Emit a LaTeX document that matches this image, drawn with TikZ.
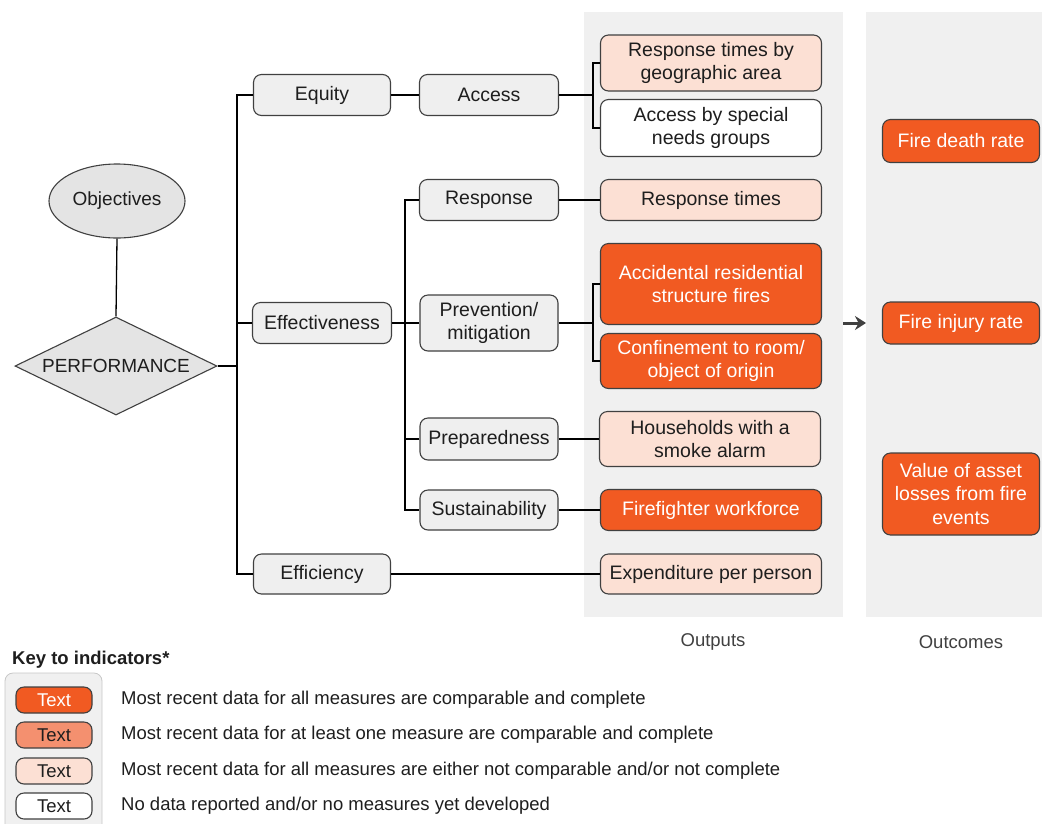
\documentclass[tikz,border=0pt]{standalone}
\usepackage{fontspec}
\setmainfont{Liberation Sans}
\usetikzlibrary{shapes.geometric,arrows.meta}

\definecolor{panelgray}{HTML}{F0F0F0}
\definecolor{boxgray}{HTML}{EFEFEF}
\definecolor{shapegray}{HTML}{E4E4E4}
\definecolor{edgegray}{HTML}{404040}
\definecolor{inkdark}{HTML}{1E1E1E}
\definecolor{firedark}{HTML}{F15A22}
\definecolor{firemid}{HTML}{F4906F}
\definecolor{firelight}{HTML}{FCE0D4}

\tikzset{
  every node/.style={text=inkdark},
  boxbase/.style={draw=edgegray, line width=1.1pt, rounded corners=8pt,
    align=center, inner sep=0pt, font=\fontsize{19.5}{23.5}\selectfont},
  framebox/.style={boxbase, fill=boxgray},
  lightbox/.style={boxbase, fill=firelight, minimum width=221pt},
  emptybox/.style={boxbase, fill=white, minimum width=221pt},
  darkbox/.style={boxbase, fill=firedark, text=white, minimum width=221pt},
  outcomebox/.style={boxbase, fill=firedark, text=white, minimum width=157pt},
  link/.style={draw=black, line width=1.3pt},
  keybox/.style={draw=edgegray, line width=1.1pt, rounded corners=8pt,
    minimum width=76pt, minimum height=26pt, inner sep=0pt,
    font=\fontsize{18.5}{22}\selectfont},
  keytext/.style={anchor=west, inner sep=0pt, font=\fontsize{18.5}{22}\selectfont},
  caption/.style={font=\fontsize{18.5}{22}\selectfont, text=edgegray}
}

\begin{document}
\begin{tikzpicture}[x=1pt, y=-1pt]
\useasboundingbox (0,0) rectangle (1042,823);

% background panels for outputs and outcomes
\fill[panelgray] (584,12) rectangle (843,617);
\fill[panelgray] (866,12) rectangle (1042,617);

% objectives and performance
\node[ellipse, draw=edgegray, line width=1.1pt, fill=shapegray,
  minimum width=136pt, minimum height=74pt, inner sep=0pt,
  font=\fontsize{19}{23}\selectfont] (obj) at (117,201) {Objectives};
\node[diamond, aspect=2.06, draw=edgegray, line width=1.1pt, fill=shapegray,
  minimum width=202pt, minimum height=98pt, inner sep=0pt,
  font=\fontsize{19}{23}\selectfont] (perf) at (116,366) {PERFORMANCE};

% first level
\node[framebox, minimum width=137pt, minimum height=41pt] (equity) at (322,95) {Equity};
\node[framebox, minimum width=139pt, minimum height=41pt] (effect) at (322,323) {Effectiveness};
\node[framebox, minimum width=137pt, minimum height=40pt] (effic) at (322,574) {Efficiency};

% second level
\node[framebox, minimum width=139pt, minimum height=41pt] (access) at (489,95) {Access};
\node[framebox, minimum width=139pt, minimum height=41pt] (respond) at (489,200) {Response};
\node[framebox, minimum width=138pt, minimum height=56pt] (prevent) at (489,323) {Prevention/\\mitigation};
\node[framebox, minimum width=138pt, minimum height=42pt] (prepare) at (489,439) {Preparedness};
\node[framebox, minimum width=138pt, minimum height=40pt] (sustain) at (489,510) {Sustainability};

% outputs
\node[lightbox, minimum height=56pt] (rtgeo) at (711,63) {Response times by\\geographic area};
\node[emptybox, minimum height=57pt] (special) at (711,128) {Access by special\\needs groups};
\node[lightbox, minimum height=41pt] (rtimes) at (711,200) {Response times};
\node[darkbox, minimum height=81pt] (fires) at (711,284) {Accidental residential\\structure fires};
\node[darkbox, minimum height=55pt] (confine) at (711,361) {Confinement to room/\\object of origin};
\node[lightbox, minimum height=55pt] (alarm) at (710,439) {Households with a\\smoke alarm};
\node[darkbox, minimum height=41pt] (workforce) at (711,510) {Firefighter workforce};
\node[lightbox, minimum height=40pt] (spend) at (711,574) {Expenditure per person};

% outcomes
\node[outcomebox, minimum height=43pt] (death) at (961,141) {Fire death rate};
\node[outcomebox, minimum height=42pt] (injury) at (961,323) {Fire injury rate};
\node[outcomebox, minimum height=82pt] (assets) at (961,494) {Value of asset\\losses from fire\\events};

% column captions
\node[caption] (outlbl) at (713,642) {Outputs};
\node[caption] (outclbl) at (961,642) {Outcomes};

% connectors: performance tree
\coordinate (trunkA) at (237,574);
\coordinate (trunkB) at (405,510);
\coordinate (brk) at (593,0);
\draw[link] (obj.south) -- (perf.north);
\draw[link] (perf.east) -- (perf.east -| trunkA);
\draw[link] (equity.west) -| (trunkA) -- (effic.west);
\draw[link] (effect.west) -- (effect.west -| trunkA);

\draw[link] (equity.east) -- (access.west);
\draw[link] (access.east) -- (access.east -| brk);
\draw[link] (rtgeo.west) -- (rtgeo.west -| brk) |- (special.west);

\draw[link] (effect.east) -- (prevent.west);
\draw[link] (respond.west) -| (trunkB) -- (sustain.west);
\draw[link] (prepare.west) -- (prepare.west -| trunkB);

\draw[link] (respond.east) -- (rtimes.west);
\draw[link] (prevent.east) -- (prevent.east -| brk);
\draw[link] (fires.west) -- (fires.west -| brk) |- (confine.west);
\draw[link] (prepare.east) -- (alarm.west);
\draw[link] (sustain.east) -- (workforce.west);
\draw[link] (effic.east) -- (spend.west);

% outputs lead to outcomes
\coordinate (arrS) at (843,323);
\coordinate (arrE) at (866,323);
\draw[draw=edgegray, line width=3pt, -{Stealth[length=11pt,width=14pt]}] (arrS) -- (arrE);

% key to indicators
\node[anchor=west, inner sep=0pt, font=\bfseries\fontsize{18.5}{22}\selectfont] (keyttl) at (12,660) {Key to indicators*};
\draw[draw=black!22, fill=panelgray, line width=0.8pt, rounded corners=8pt] (5,673) rectangle (102,832);
\node[keybox, fill=firedark, text=white] (k1) at (54,700) {Text};
\node[keybox, fill=firemid] (k2) at (54,735) {Text};
\node[keybox, fill=firelight] (k3) at (54,771) {Text};
\node[keybox, fill=white] (k4) at (54,806) {Text};
\node[keytext] (t1) at (121,700) {Most recent data for all measures are comparable and complete};
\node[keytext] (t2) at (121,735) {Most recent data for at least one measure are comparable and complete};
\node[keytext] (t3) at (121,771) {Most recent data for all measures are either not comparable and/or not complete};
\node[keytext] (t4) at (121,806) {No data reported and/or no measures yet developed};
\end{tikzpicture}
\end{document}
